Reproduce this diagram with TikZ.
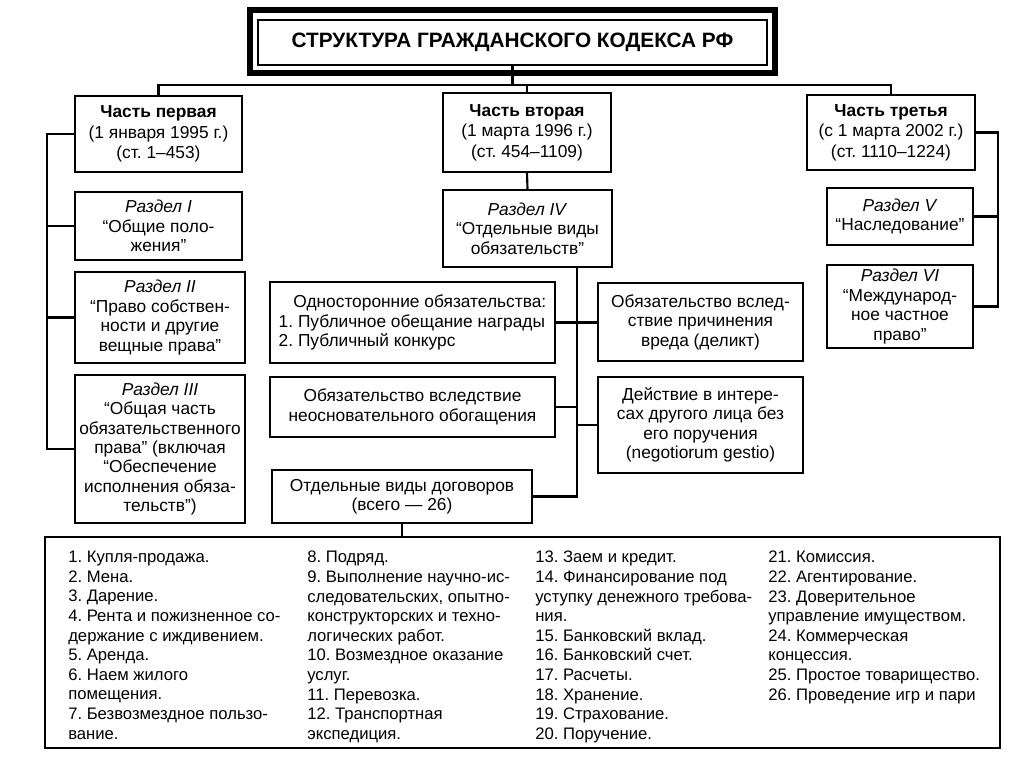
\documentclass[tikz,border=0pt]{standalone}
\usepackage{fontspec}
\setmainfont{Liberation Sans}
\frenchspacing
\newcommand\mybox[7]{%
  \node[#6, minimum width={(#4-#2)*0.75pt}, minimum height={(#5-#3)*0.75pt}] (#1) at ({(#2+#4)/2},{(#3+#5)/2}) {#7};}
\begin{document}
\frenchspacing
\begin{tikzpicture}[x=0.75pt,y=-0.75pt,
  bx/.style={draw, line width=1.6pt, inner sep=2pt, align=center, font=\fontsize{13}{14.6}\selectfont},
  pt/.style={bx, font=\fontsize{13}{15.3}\selectfont},
  ln/.style={line width=1.6pt},
  lst/.style={anchor=north west, inner sep=0pt, align=left, font=\fontsize{12.5}{14.7}\selectfont}]
\useasboundingbox[fill=white] (0,0) rectangle (1024,767);

% title
\mybox{title}{258}{20}{767}{65}{bx, line width=1pt, font=\fontsize{15.6}{18}\selectfont\bfseries}{СТРУКТУРА ГРАЖДАНСКОГО КОДЕКСА РФ}
\draw[line width=4.5pt] ([shift={(-7,-9)}]title.north west) rectangle ([shift={(7,7)}]title.south east);

% parts
\mybox{p1}{75}{96}{242}{172}{pt}{\textbf{Часть первая}\\(1 января 1995 г.)\\(ст. 1–453)}
\mybox{p2}{443}{93}{611}{172}{pt}{\textbf{Часть вторая}\\(1 марта 1996 г.)\\(ст. 454–1109)}
\mybox{p3}{807}{95}{975}{170}{pt}{\textbf{Часть третья}\\(с 1 марта 2002 г.)\\(ст. 1110–1224)}

% sections
\mybox{r1}{75}{192}{242}{260}{bx}{\textit{Раздел I}\\“Общие поло-\\жения”}
\mybox{r2}{75}{272}{245}{363}{bx}{\textit{Раздел II}\\“Право собствен-\\ности и другие\\вещные права”}
\mybox{r3}{75}{375}{245}{523}{bx}{\textit{Раздел III}\\“Общая часть\\обязательственного\\права” (включая\\“Обеспечение\\исполнения обяза-\\тельств”)}
\mybox{r4}{443}{190}{612}{267}{bx}{\textit{Раздел IV}\\“Отдельные виды\\обязательств”}
\mybox{r5}{827}{188}{973}{245}{bx}{\textit{Раздел V}\\“Наследование”}
\mybox{r6}{827}{265}{973}{348}{bx}{\textit{Раздел VI}\\“Международ-\\ное частное\\право”}

% obligations
\mybox{uni}{270}{282}{555}{363}{bx, align=left}{\hspace*{11pt}Односторонние обязательства:\\1. Публичное обещание награды\\2. Публичный конкурс}
\mybox{delict}{598}{283}{803}{361}{bx}{Обязательство вслед-\\ствие причинения\\вреда (деликт)}
\mybox{unjust}{270}{377}{555}{437}{bx}{Обязательство вследствие\\неосновательного обогащения}
\mybox{negot}{598}{377}{803}{473}{bx}{Действие в интере-\\сах другого лица без\\его поручения\\(negotiorum gestio)}
\mybox{contracts}{272}{470}{532}{523}{bx}{Отдельные виды договоров\\(всего — 26)}

% list
\mybox{list}{45}{537}{1000}{748}{draw, line width=1.6pt}{}
\node[lst] (c1) at (68,551) {1. Купля-продажа.\\2. Мена.\\3. Дарение.\\4. Рента и пожизненное со-\\держание с иждивением.\\5. Аренда.\\6. Наем жилого\\помещения.\\7. Безвозмездное пользо-\\вание.};
\node[lst] (c2) at (307,551) {8. Подряд.\\9. Выполнение научно-ис-\\следовательских, опытно-\\конструкторских и техно-\\логических работ.\\10. Возмездное оказание\\услуг.\\11. Перевозка.\\12. Транспортная\\экспедиция.};
\node[lst] (c3) at (535,551) {13. Заем и кредит.\\14. Финансирование под\\уступку денежного требова-\\ния.\\15. Банковский вклад.\\16. Банковский счет.\\17. Расчеты.\\18. Хранение.\\19. Страхование.\\20. Поручение.};
\node[lst] (c4) at (768,551) {21. Комиссия.\\22. Агентирование.\\23. Доверительное\\управление имуществом.\\24. Коммерческая\\концессия.\\25. Простое товарищество.\\26. Проведение игр и пари};

% connectors
\coordinate (bus) at (0,85);
\coordinate (ls) at (47,0);
\coordinate (rs) at (998,0);
\coordinate (ms) at (577,0);
\draw[ln] (title.south) -- (title.south |- bus);
\draw[ln] (p1.north) |- (bus -| p3.north) -- (p3.north);
\draw[ln] (p2.north) -- (p2.north |- bus);
\draw[ln] (p1.west) -| (ls |- r3.west) -- (r3.west);
\draw[ln] (r1.west) -- (r1.west -| ls);
\draw[ln] (r2.west) -- (r2.west -| ls);
\draw[ln] (p3.east) -| (rs |- r6.east) -- (r6.east);
\draw[ln] (r5.east) -- (r5.east -| rs);
\draw[ln] (p2.south) -- (r4.north);
\draw[ln] (ms |- r4.south) -- (ms |- contracts.east) -- (contracts.east);
\draw[ln] (uni.east) -- (uni.east -| delict.west);
\draw[ln] (unjust.east) -- (unjust.east -| ms);
\draw[ln] (negot.west) -- (negot.west -| ms);
\draw[ln] (contracts.south) -- (contracts.south |- list.north);
\end{tikzpicture}
\end{document}
